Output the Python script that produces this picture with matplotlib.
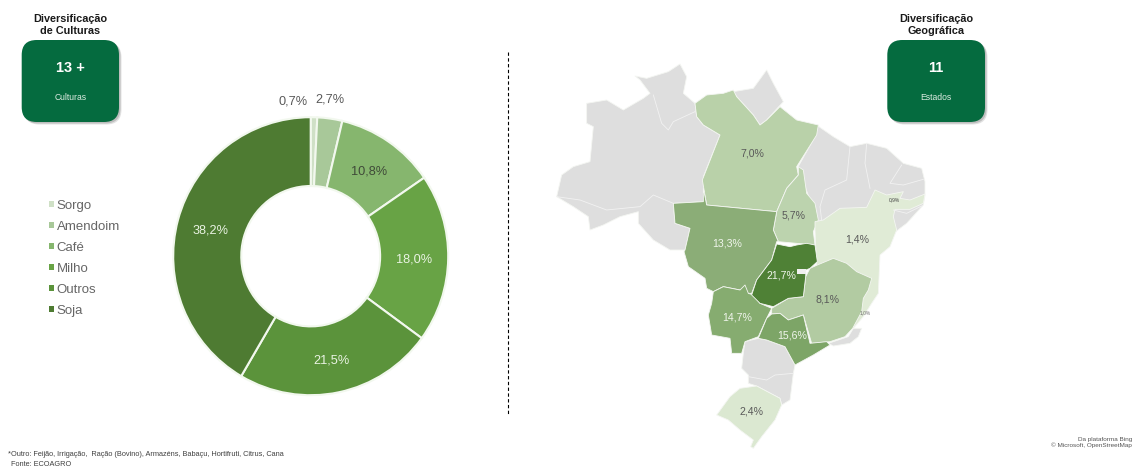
import matplotlib
matplotlib.use("Agg")
import matplotlib.pyplot as plt
import numpy as np
from matplotlib.patches import FancyBboxPatch, Polygon, Patch, Rectangle

plt.rcParams['font.family'] = ['Liberation Sans', 'DejaVu Sans']

# ---- data ----
categories = ["Sorgo", "Amendoim", "Café", "Milho", "Outros", "Soja"]
crop_values = [0.7, 2.7, 10.8, 18.0, 21.5, 38.2]
crop_labels = ["0,7%", "2,7%", "10,8%", "18,0%", "21,5%", "38,2%"]
crop_colors = ["#CFE0C6", "#A8C899", "#86B66E", "#68A345", "#5B933B", "#4E7B32"]
crop_text = ["#595959", "#595959", "#3F4A38", "#EAF3E3", "#EAF3E3", "#EAF3E3"]

W, H = 1139, 468
fig = plt.figure(figsize=(W / 100, H / 100), dpi=100, facecolor="white")
ax = fig.add_axes([0, 0, 1, 1])
ax.set_xlim(0, W)
ax.set_ylim(H, 0)
ax.axis("off")

def z(ox, oy, pts):
    return [(ox + a / 3, oy + b / 3) for a, b in pts]
z1 = lambda p: z(540, 60, p)
z2 = lambda p: z(660, 240, p)
z5 = lambda p: z(790, 120, p)
z6 = lambda p: z(790, 230, p)

GRAY = "#DEDEDE"
EDGE = "#F4F6F2"

# ---- map regions ----
north_west = z1([(285,48),(320,55),(385,35),(420,12),(440,50),(430,100),(465,130),(470,170),(490,195),(540,225),
                 (490,350),(495,390),(490,425),(400,430),(405,490),(450,505),(435,570),(390,570),(340,540),(295,490),
                 (295,455),(240,470),(190,495),(150,510),(145,470),(100,440),(50,410),(65,345),(100,320),(150,305),
                 (160,200),(140,190),(140,130),(200,120),(250,150),(310,115),(330,100),(300,60)])
amapa = z1([(580,95),(640,85),(680,30),(700,70),(730,125),(680,180),(660,195),(640,165),(590,110)])
north_east = z5([(84,18),(130,50),(180,80),(230,70),(290,85),(340,130),(395,145),(405,185),(405,225),(400,255),
                 (350,310),(330,325),(305,345),(250,330),(150,330),(70,310),(60,240),(24,141),(75,50)])
para = z1([(465,130),(500,105),(550,100),(580,90),(590,110),(640,165),(660,195),(680,180),(720,140),(770,180),
           (835,195),(830,225),(770,320),(775,345),(740,385),(710,455),(500,435),(487,360),(540,225),(490,195),(470,170)])
tocantins = z1([(775,320),(790,330),(800,400),(825,430),(835,480),(820,515),(825,555),(770,550),(715,545),(700,510),
                (710,455),(740,385),(775,345)])
mato_grosso = z1([(490,385),(500,435),(710,455),(700,510),(715,545)]) + \
    z2([(350,5),(335,60),(290,120),(275,160),(255,160),(240,150),(190,140),(160,155),(140,145),(135,115),(85,80),(72,35)]) + \
    z1([(435,570),(450,505),(405,490),(400,430),(490,425)])
goias = z2([(350,12),(390,20),(410,15),(440,10),(465,15),(472,65),(450,85),(438,90),(437,110),(430,170),(385,175),
            (340,200),(300,190),(275,165),(290,120),(335,60)])
mato_grosso_sul = z2([(160,155),(190,140),(240,150),(255,135),(265,160),(280,165),(300,190),(335,205),(320,235),(295,290),
                      (255,305),(245,340),(215,340),(210,295),(155,285),(145,225),(155,190)])
sao_paulo = z2([(335,222),(360,220),(385,240),(430,225),(450,310),(500,305),(510,315),(460,345),(405,375),(375,320),
                (320,300),(295,295),(320,235)])
minas = z2([(335,205),(385,175),(430,170),(437,110),(450,85),(472,75),(520,55),(560,70),(590,95),(635,115),(625,150),
            (610,175),(605,215),(578,265),(555,290),(510,305),(455,310),(430,225),(385,240),(360,220),(335,222)])
bahia = z5([(75,305),(100,300),(150,265),(230,262),(255,210),(290,225),(340,215),(330,235),(360,240),(405,222),(400,250),
            (360,268),(315,268),(310,290),(320,330)]) + \
    z6([(300,50),(270,75),(265,190),(245,220),(220,260),(190,295),(180,285),(175,250),(80,120),(75,0)])
rio = z6([(115,340),(175,320),(190,295),(215,295),(205,320),(180,340),(130,348)])
south = z2([(255,305),(295,295),(320,300),(375,320),(405,375),(400,400),(395,440),(390,480),(365,495),(360,475),(290,438),
            (265,430),(265,405),(245,385),(250,340)])
rio_sul = z2([(290,438),(360,475),(365,495),(345,540),(305,590),(280,625),(272,620),(280,600),(240,570),(205,540),
              (170,525),(210,470),(240,445)])

regions = [
    (north_west, GRAY), (amapa, GRAY), (north_east, GRAY), (rio, GRAY), (south, GRAY),
    (para, "#B9D1A9"), (tocantins, "#BCD3AE"), (bahia, "#E0EBD6"), (mato_grosso, "#8BAD77"),
    (minas, "#B2CBA2"), (mato_grosso_sul, "#86AC70"), (sao_paulo, "#7DA567"), (goias, "#4F8136"),
    (rio_sul, "#DBE8D1"),
]
for pts, color in regions:
    ax.add_patch(Polygon(pts, closed=True, facecolor=color, edgecolor=EDGE, linewidth=0.6, joinstyle="round"))

borders = [
    z1([(340,105),(365,190),(385,210),(400,185),(465,155)]),
    z1([(50,410),(120,420),(200,450),(300,440),(340,405),(400,430)]),
    z5([(180,80),(170,180),(105,210),(90,260),(95,300)]),
    z5([(230,70),(225,130),(240,205)]),
    z5([(335,135),(300,190),(340,195),(400,178)]),
    z5([(310,270),(350,280),(395,258)]),
    z2([(265,410),(320,420),(345,405),(400,400)]),
]
for line in borders:
    xs, ys = zip(*line)
    ax.plot(xs, ys, color="#F2F2F2", lw=0.6)

ax.add_patch(Rectangle((797, 269), 9, 5, facecolor="#F0F0F0", edgecolor="none"))

state_labels = [
    ("7,0%", 752, 154, "#595959", 7.6), ("5,7%", 794, 216, "#595959", 7.6), ("13,3%", 727, 243, "#F0F5EC", 7.6),
    ("1,4%", 857, 240, "#595959", 7.6), ("21,7%", 781, 276, "#F0F5EC", 7.6), ("8,1%", 828, 300, "#595959", 7.6),
    ("14,7%", 737, 317, "#F0F5EC", 7.6), ("15,6%", 792, 336, "#F0F5EC", 7.6), ("2,4%", 752, 412, "#595959", 7.6),
    ("0,9%", 894, 200, "#404040", 3.5), ("1,0%", 865, 313, "#707070", 3.5),
]
for s, x, y, c, fs in state_labels:
    ax.text(x, y, s, color=c, fontsize=fs, ha="center", va="center")

# ---- divider ----
ax.plot([507.5, 507.5], [52, 415], color="black", lw=0.8, ls=(0, (3, 2.2)))

# ---- cards ----
def card(x0, x1, title, big, small):
    cx = (x0 + x1) / 2
    y0, y1 = 40, 122
    r = 15
    for off, alpha in ((2.5, 0.25), (1.5, 0.4)):
        ax.add_patch(FancyBboxPatch((x0 + r + off, y0 + r + off), x1 - x0 - 2 * r, y1 - y0 - 2 * r,
                                    boxstyle=f"round,pad={r},rounding_size={r}", fc="#8A8A8A", ec="none", alpha=alpha))
    ax.add_patch(FancyBboxPatch((x0 + r, y0 + r), x1 - x0 - 2 * r, y1 - y0 - 2 * r,
                                boxstyle=f"round,pad={r},rounding_size={r}", fc="#056B3F", ec="none"))
    ax.text(cx, 19, title[0], fontsize=7.8, fontweight="bold", ha="center", va="center", color="#1A1A1A")
    ax.text(cx, 31, title[1], fontsize=7.8, fontweight="bold", ha="center", va="center", color="#1A1A1A")
    ax.text(cx, 67.5, big, fontsize=10.5, fontweight="bold", ha="center", va="center", color="white")
    ax.text(cx, 97, small, fontsize=6.2, ha="center", va="center", color="#DDEBE2")

card(21.7, 119, ("Diversificação", "de Culturas"), "13 +", "Culturas")
card(887.3, 985, ("Diversificação", "Geográfica"), "11", "Estados")

# ---- footers ----
ax.text(8, 455, "*Outro: Feijão, Irrigação,  Ração (Bovino), Armazéns, Babaçu, Hortifruti, Citrus, Cana",
        fontsize=5.3, color="#404040", ha="left", va="center")
ax.text(11, 464.5, "Fonte: ECOAGRO", fontsize=5.3, color="#404040", ha="left", va="center")
ax.text(1132, 439, "Da plataforma Bing", fontsize=4.6, color="#555555", ha="right", va="center")
ax.text(1132, 445, "© Microsoft, OpenStreetMap", fontsize=4.6, color="#555555", ha="right", va="center")

# ---- donut ----
cx, cy, Rx, Ry = 310.7, 256.2, 137.5, 139.0
pad = 1.02
dax = fig.add_axes([(cx - Rx * pad) / W, (H - cy - Ry * pad) / H, 2 * Rx * pad / W, 2 * Ry * pad / H])
wedges, _ = dax.pie(crop_values, colors=crop_colors, startangle=90, counterclock=False, radius=1,
                    wedgeprops=dict(width=0.495, edgecolor="#F2F8EE", linewidth=1.5))
dax.set_xlim(-pad, pad)
dax.set_ylim(-pad, pad)
dax.set_aspect("auto")

for i, w in enumerate(wedges):
    a = np.deg2rad((w.theta1 + w.theta2) / 2)
    if i == 0:
        x, y = -0.13, 1.115
    elif i == 1:
        x, y = 0.143, 1.13
    else:
        x, y = 0.755 * np.cos(a), 0.755 * np.sin(a) - 0.01
    dax.text(x, y, crop_labels[i], color=crop_text[i], fontsize=9.2, ha="center", va="center", clip_on=False)

# ---- legend ----
handles = [Patch(facecolor=c, edgecolor="none") for c in crop_colors]
fig.legend(handles, categories, loc="upper left", bbox_to_anchor=(48.5 / W, 1 - 199.5 / H), frameon=False,
           fontsize=9.5, labelcolor="#666666", handlelength=0.45, handleheight=0.3,
           handletextpad=0.17, labelspacing=0.69, borderpad=0, borderaxespad=0)

fig.savefig("out.png", dpi=100, facecolor="white")
